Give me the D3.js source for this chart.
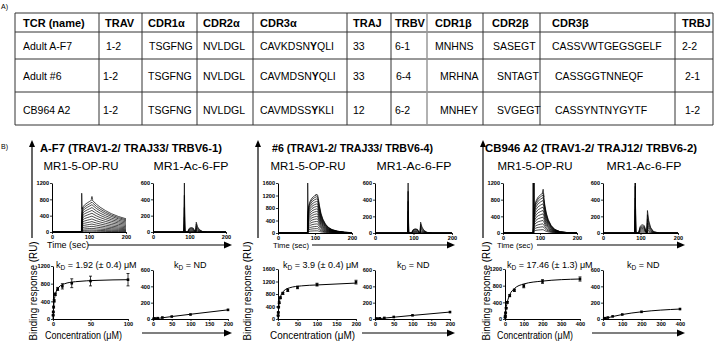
<!DOCTYPE html>
<html>
<head>
<meta charset="utf-8">
<script src="https://cdn.jsdelivr.net/npm/d3@7"></script>
<style>
html, body { margin: 0; padding: 0; background: #fff; }
svg { display: block; }
</style>
</head>
<body>
<div id="fig"></div>
<script>
// TCR table (A) and SPR panels (B): sensorgrams + steady-state binding curves.
var FONT = '"Liberation Sans", Arial, Helvetica, sans-serif';

// ---- A) table ------------------------------------------------------------
var tableHeaders = ['TCR (name)', 'TRAV', 'CDR1\u03b1', 'CDR2\u03b1', 'CDR3\u03b1', 'TRAJ',
                    'TRBV', 'CDR1\u03b2', 'CDR2\u03b2', 'CDR3\u03b2', 'TRBJ'];
var tcrNames  = ['Adult A-F7', 'Adult #6', 'CB964 A2'];
var travGenes = ['1-2', '1-2', '1-2'];
var cdr1a     = ['TSGFNG', 'TSGFNG', 'TSGFNG'];
var cdr2a     = ['NVLDGL', 'NVLDGL', 'NVLDGL'];
var cdr3a     = ['CAVKDSN[Y]QLI', 'CAVMDSN[Y]QLI', 'CAVMDSS[Y]KLI'];   // [..] = bold
var trajGenes = ['33', '33', '12'];
var trbvGenes = ['6-1', '6-4', '6-2'];
var cdr1b     = ['MNHNS', 'MRHNA', 'MNHEY'];
var cdr2b     = ['SASEGT', 'SNTAGT', 'SVGEGT'];
var cdr3b     = ['CASSVWTGEGSGELF', 'CASSGGTNNEQF', 'CASSYNTNYGYTF'];
var trbjGenes = ['2-2', '2-1', '1-2'];

// ---- B) titles -----------------------------------------------------------
var groupTitles = ['A-F7 (TRAV1-2/ TRAJ33/ TRBV6-1)',
                   '#6 (TRAV1-2/ TRAJ33/ TRBV6-4)',
                   'CB946 A2 (TRAV1-2/ TRAJ12/ TRBV6-2)'];
var ligandNames = ['MR1-5-OP-RU', 'MR1-Ac-6-FP'];
var kdLabels = [' = 1.92 (\u00b1 0.4) \u03bcM', ' = ND',
                ' = 3.9 (\u00b1 0.4) \u03bcM',  ' = ND',
                ' = 17.46 (\u00b1 1.3) \u03bcM', ' = ND'];

// ---- sensorgrams, MR1-5-OP-RU: shape [time, fraction of level] x trace levels
var opShapeAF7 = [[0,0],[80,0],[81.5,0.62],[84,0.78],[88,0.84],[95,0.9],[102,0.95],[108,1],
                  [111,0.96],[120,0.86],[130,0.77],[145,0.66],[160,0.57],[180,0.48],[200,0.41]];
var opLevelsAF7 = [790, 730, 670, 600, 530, 460, 390, 320, 255, 195, 140, 90, 50, 20];
var opSpikesAF7 = [[[79.5,0],[80.3,950],[81.5,560],[82,610]], [[106,800],[108,870],[110,790]]];

var opShape6 = [[0,0],[80,0],[81,0.55],[83,0.72],[87,0.84],[92,0.92],[98,0.97],[104,1],[107,1],
                [109,0.9],[112,0.72],[116,0.52],[121,0.37],[128,0.24],[136,0.15],[146,0.09],
                [160,0.05],[180,0.02],[200,0.01]];
var opLevels6 = [1220, 1160, 1090, 1010, 930, 850, 770, 690, 610, 530, 450, 370, 290, 210, 140, 70];
var opSpikes6 = [[[79.5,0],[80.3,1600],[81.5,650]], [[101,1200],[103,1240],[105,1215]]];

var opShapeCB = [[0,0],[82,0],[83,0.45],[85,0.65],[89,0.8],[95,0.9],[102,0.96],[108,1],[110,0.92],
                 [113,0.7],[117,0.5],[122,0.34],[130,0.19],[140,0.09],[155,0.03],[175,0.01],[200,0]];
var opLevelsCB = [960, 910, 850, 780, 700, 620, 540, 460, 380, 300, 220, 150, 80];
var opSpikesCB = [[[80.5,0],[81.3,1200],[82,0]], [[82,0],[82.8,1200],[83.6,0]],
                  [[83.5,0],[84.3,1200],[85,650]], [[106,950],[108.5,1050],[111,860]]];

// ---- sensorgrams, MR1-Ac-6-FP: [time, spike frac, bump frac, peak frac]
var acShape = [[0,0,0,0],[84.5,0,0,0],[86,1,0,0],[87.5,0,0,0],[95,0,0,0],[99,0,0.8,0],[104,0,1,0],
               [110,0,0.9,0],[114,0,0.3,0],[117,0,0,0],[118.5,0,0,1],[122,0,0,0.55],
               [127,0,0,0.25],[135,0,0,0.06],[150,0,0,0],[200,0,0,0]];
var acSpikeAF7 = [600, 450, 300, 180, 90, 40, 15];
var acBumpAF7  = [55, 45, 35, 25, 15, 8, 4];
var acPeakAF7  = [120, 95, 70, 50, 30, 15, 6];
var acSpike6 = [600, 500, 380, 260, 150, 70, 25];
var acBump6  = [50, 45, 38, 28, 18, 10, 4];
var acPeak6  = [130, 105, 80, 55, 35, 18, 8];
var acSpikeCB = [600, 600, 560, 420, 280, 150, 60];
var acBumpCB  = [100, 85, 70, 55, 40, 25, 10];
var acPeakCB  = [270, 220, 170, 120, 80, 45, 18];

// ---- steady-state binding (concentration uM, response RU)
var concAF7 = [0.2, 0.4, 0.8, 1.6, 3.1, 6.25, 12.5, 25, 50, 100];
var respAF7 = [85, 160, 270, 410, 560, 680, 740, 810, 860, 890];
var errAF7  = [10, 15, 20, 25, 30, 35, 60, 100, 110, 140];
var fitAF7  = [[0,0],[0.5,185],[1,310],[2,460],[4,610],[8,725],[15,795],[30,845],[60,875],[100,890]];

var concAF7nd = [1.6, 3.1, 6.25, 12.5, 25, 50, 100, 200];
var respAF7nd = [2, 4, 6, 10, 18, 30, 55, 112];
var fitAF7nd  = [[0,0],[50,30],[100,58],[200,112]];

var conc6 = [0.4, 0.8, 1.6, 3.1, 6.25, 12.5, 25, 50, 100, 200];
var resp6 = [110, 210, 380, 520, 680, 820, 920, 1010, 1100, 1180];
var err6  = [10, 15, 20, 25, 30, 35, 40, 40, 45, 60];
var fit6  = [[0,0],[1,230],[2,390],[4,580],[8,770],[15,900],[30,1000],[60,1060],[100,1090],[200,1150]];

var conc6nd = [3.1, 6.25, 12.5, 25, 50, 100, 200];
var resp6nd = [3, 5, 8, 13, 25, 45, 85];
var fit6nd  = [[0,0],[50,22],[100,44],[200,85]];

var concCB = [0.8, 1.6, 3.1, 6.25, 12.5, 25, 50, 100, 200, 400];
var respCB = [40, 80, 150, 260, 400, 560, 690, 790, 900, 960];
var errCB  = [5, 8, 10, 15, 20, 25, 30, 40, 45, 50];
var fitCB  = [[0,0],[3,150],[6,260],[12,400],[25,580],[50,730],[100,840],[200,910],[400,960]];

var concCBnd = [6.25, 12.5, 25, 50, 100, 200, 400];
var respCBnd = [6, 10, 18, 32, 55, 88, 122];
var fitCBnd  = [[0,0],[50,30],[100,55],[200,88],[400,122]];

// ---- ticks
var timeTicks = [0, 100, 200];
var ru1200Ticks = [0, 400, 800, 1200];
var ru1600Ticks = [0, 400, 800, 1200, 1600];
var ru600Ticks = [0, 200, 400, 600];
var conc100Ticks = [0, 50, 100];
var conc200Ticks = [0, 50, 100, 150, 200];
var conc400Ticks = [0, 100, 200, 300, 400];

// =========================================================================
var svg = d3.select('#fig').append('svg')
    .attr('width', 720).attr('height', 342)
    .attr('font-family', FONT);

function txt(parent, x, y, s, size, opts) {
    opts = opts || {};
    var t = parent.append('text')
        .attr('x', x).attr('y', y)
        .attr('font-size', size)
        .attr('font-weight', opts.bold ? 'bold' : 'normal')
        .attr('text-anchor', opts.anchor || 'start')
        .attr('fill', '#000')
        .text(s);
    if (opts.len) t.attr('textLength', opts.len).attr('lengthAdjust', 'spacingAndGlyphs');
    if (opts.rotate) t.attr('transform', 'rotate(' + opts.rotate + ',' + x + ',' + y + ')');
    return t;
}

// ---------------- A) table ----------------
txt(svg, 1, 9, 'A)', 7);
var colLines = [15, 99, 142, 197, 253, 347, 391, 427, 483, 540, 675, 713];
var rowLines = [13, 32, 59, 92, 125];
var rowMid = [23, 46, 76, 110];
var textX = [
    [23, 105, 148, 203, 260, 353, 395, 435, 492, 552, 682],
    [23, 106, 149, 203, 260, 353, 395, 435, 493, 552, 682],
    [23, 103, 148, 203, 260, 353, 396, 440, 497, 555, 685],
    [23, 103, 148, 203, 260, 353, 395, 440, 497, 555, 685]
];
var tg = svg.append('g');
rowLines.forEach(function (y) {
    tg.append('line').attr('x1', colLines[0]).attr('x2', colLines[colLines.length - 1])
        .attr('y1', y).attr('y2', y).attr('stroke', '#333').attr('stroke-width', 1);
});
colLines.forEach(function (x, i) {
    tg.append('line').attr('x1', x).attr('x2', x)
        .attr('y1', rowLines[0]).attr('y2', rowLines[rowLines.length - 1])
        .attr('stroke', i === 7 ? '#999' : '#333').attr('stroke-width', i === 7 ? 1.5 : 1);
});
tableHeaders.forEach(function (h, i) {
    txt(tg, textX[0][i], rowMid[0] + 4, h, 11, { bold: true });
});
var tableRows = tcrNames.map(function (n, r) {
    return [n, travGenes[r], cdr1a[r], cdr2a[r], cdr3a[r], trajGenes[r],
            trbvGenes[r], cdr1b[r], cdr2b[r], cdr3b[r], trbjGenes[r]];
});
tableRows.forEach(function (row, r) {
    row.forEach(function (cell, c) {
        var t = txt(tg, textX[r + 1][c], rowMid[r + 1] + 4, '', 10.5);
        cell.split(/(\[[^\]]*\])/).forEach(function (part) {
            if (!part) return;
            var bold = part.charAt(0) === '[';
            t.append('tspan').attr('font-weight', bold ? 'bold' : 'normal')
                .text(bold ? part.slice(1, -1) : part);
        });
    });
});

// ---------------- B) panels ----------------
txt(svg, 1, 149, 'B)', 7);

function arrowUp(g, x, yBottom, yTip) {
    g.append('line').attr('x1', x).attr('x2', x).attr('y1', yBottom).attr('y2', yTip + 6)
        .attr('stroke', '#000').attr('stroke-width', 1.2);
    g.append('path').attr('d', 'M' + (x - 3) + ',' + (yTip + 7) + 'L' + x + ',' + yTip + 'L' + (x + 3) + ',' + (yTip + 7) + 'Z')
        .attr('fill', '#000');
}
function arrowRight(g, x0, xTip, y) {
    g.append('line').attr('x1', x0).attr('x2', xTip - 6).attr('y1', y).attr('y2', y)
        .attr('stroke', '#000').attr('stroke-width', 1.2);
    g.append('path').attr('d', 'M' + (xTip - 8) + ',' + (y - 3.5) + 'L' + xTip + ',' + y + 'L' + (xTip - 8) + ',' + (y + 3.5) + 'Z')
        .attr('fill', '#000');
}

function axes(g, x, y, xt, yt) {
    var fmt = d3.format('d');
    var xa = g.append('g').attr('transform', 'translate(0,' + y.range()[0] + ')')
        .call(d3.axisBottom(x).tickValues(xt).tickFormat(fmt).tickSize(2).tickPadding(1).tickSizeOuter(0));
    var ya = g.append('g').attr('transform', 'translate(' + x.range()[0] + ',0)')
        .call(d3.axisLeft(y).tickValues(yt).tickFormat(fmt).tickSize(2).tickPadding(1).tickSizeOuter(0));
    [xa, ya].forEach(function (a) {
        a.attr('font-size', 5.6).attr('font-family', FONT).attr('font-weight', 'bold');
        a.select('.domain').attr('stroke', '#000').attr('stroke-width', 1);
        a.selectAll('.tick line').attr('stroke', '#000').attr('stroke-width', 0.8);
        a.selectAll('.tick text').attr('fill', '#000');
    });
}

var groups = [
    { vx: 32, labelX: 33, titleX: 40, titleLen: 182, timeX: 47, timeSize: 9, timeLen: 42, timeArrow: [88, 232],
      concX: 45, concSize: 10, concLen: 77, concArrow: [142, 232] },
    { vx: 258, labelX: 247, titleX: 272, titleLen: 161, timeX: 273, timeSize: 8, timeLen: 36, timeArrow: [312, 455],
      concX: 270, concSize: 10, concLen: 85, concArrow: [362, 455] },
    { vx: 483, labelX: 486, titleX: 485, titleLen: 212, timeX: 497, timeSize: 8, timeLen: 36, timeArrow: [537, 685],
      concX: 497, concSize: 10, concLen: 76, concArrow: [592, 685] }
];
groups.forEach(function (gr, i) {
    var g = svg.append('g');
    arrowUp(g, gr.vx, 238, 140);
    txt(g, gr.titleX, 152, groupTitles[i], 11.5, { bold: true, len: gr.titleLen });
    txt(g, gr.timeX, 248, 'Time (sec)', gr.timeSize, { len: gr.timeLen });
    arrowRight(g, gr.timeArrow[0], gr.timeArrow[1], 245);
    txt(g, gr.concX, 338.5, 'Concentration (\u03bcM)', gr.concSize, { len: gr.concLen });
    arrowRight(g, gr.concArrow[0], gr.concArrow[1], 333);
    txt(g, gr.labelX + 3.5, 291, 'Binding response (RU)', 10.5, { anchor: 'middle', rotate: -90, len: 99 });
});

function opTraces(shape, levels, spikes) {
    var out = levels.map(function (L) {
        return shape.map(function (p) { return [p[0], p[1] * L]; });
    });
    return out.concat(spikes);
}
function acTraces(spike, bump, peak) {
    return spike.map(function (s, k) {
        return acShape.map(function (p) { return [p[0], s * p[1] + bump[k] * p[2] + peak[k] * p[3]]; });
    });
}

var sensorPanels = [
    { x0: 52,  x1: 126, y0: 232, y1: 183, ymax: 1200, yt: ru1200Ticks, lab: 0, labX: 81,
      traces: opTraces(opShapeAF7, opLevelsAF7, opSpikesAF7) },
    { x0: 153, x1: 226, y0: 232, y1: 183, ymax: 600, yt: ru600Ticks, lab: 1, labX: 191,
      traces: acTraces(acSpikeAF7, acBumpAF7, acPeakAF7) },
    { x0: 278, x1: 352, y0: 233, y1: 183, ymax: 1600, yt: ru1600Ticks, lab: 0, labX: 308,
      traces: opTraces(opShape6, opLevels6, opSpikes6) },
    { x0: 375, x1: 452, y0: 233, y1: 183, ymax: 600, yt: ru600Ticks, lab: 1, labX: 414,
      traces: acTraces(acSpike6, acBump6, acPeak6) },
    { x0: 503, x1: 577, y0: 233, y1: 183, ymax: 1200, yt: ru1200Ticks, lab: 0, labX: 535,
      traces: opTraces(opShapeCB, opLevelsCB, opSpikesCB) },
    { x0: 603, x1: 678, y0: 233, y1: 183, ymax: 600, yt: ru600Ticks, lab: 1, labX: 644,
      traces: acTraces(acSpikeCB, acBumpCB, acPeakCB) }
];
sensorPanels.forEach(function (p) {
    var g = svg.append('g');
    var x = d3.scaleLinear().domain([0, 200]).range([p.x0, p.x1]);
    var y = d3.scaleLinear().domain([0, p.ymax]).range([p.y0, p.y1]);
    var line = d3.line().x(function (d) { return x(d[0]); }).y(function (d) { return y(d[1]); });
    g.selectAll('path.trace').data(p.traces).enter().append('path')
        .attr('class', 'trace').attr('d', line)
        .attr('fill', 'none').attr('stroke', '#000').attr('stroke-width', 0.7);
    axes(g, x, y, timeTicks, p.yt);
    txt(g, p.labX, 170, ligandNames[p.lab], 11.3, { anchor: 'middle', len: 75 });
});

var bindPanels = [
    { x0: 53,  x1: 128, y0: 319, y1: 266, xmax: 100, ymax: 1200, xt: conc100Ticks, yt: ru1200Ticks,
      conc: concAF7, resp: respAF7, err: errAF7, fit: fitAF7, kdX: 56 },
    { x0: 153, x1: 228, y0: 319, y1: 270, xmax: 200, ymax: 600, xt: conc200Ticks, yt: ru600Ticks,
      conc: concAF7nd, resp: respAF7nd, err: null, fit: fitAF7nd, kdX: 174 },
    { x0: 278, x1: 356, y0: 319, y1: 269, xmax: 200, ymax: 1600, xt: conc200Ticks, yt: ru1600Ticks,
      conc: conc6, resp: resp6, err: err6, fit: fit6, kdX: 283 },
    { x0: 375, x1: 450, y0: 319, y1: 270, xmax: 200, ymax: 600, xt: conc200Ticks, yt: ru600Ticks,
      conc: conc6nd, resp: resp6nd, err: null, fit: fit6nd, kdX: 397 },
    { x0: 505, x1: 580, y0: 319, y1: 269, xmax: 400, ymax: 1200, xt: conc400Ticks, yt: ru1200Ticks,
      conc: concCB, resp: respCB, err: errCB, fit: fitCB, kdX: 507 },
    { x0: 603, x1: 680, y0: 319, y1: 270, xmax: 400, ymax: 600, xt: conc400Ticks, yt: ru600Ticks,
      conc: concCBnd, resp: respCBnd, err: null, fit: fitCBnd, kdX: 627 }
];
bindPanels.forEach(function (p, i) {
    var g = svg.append('g');
    var x = d3.scaleLinear().domain([0, p.xmax]).range([p.x0, p.x1]);
    var y = d3.scaleLinear().domain([0, p.ymax]).range([p.y0, p.y1]);
    var line = d3.line().curve(d3.curveMonotoneX)
        .x(function (d) { return x(d[0]); }).y(function (d) { return y(d[1]); });
    g.append('path').attr('d', line(p.fit)).attr('fill', 'none')
        .attr('stroke', '#000').attr('stroke-width', 1);
    if (p.err) {
        p.conc.forEach(function (c, k) {
            var cx = x(c), lo = y(p.resp[k] - p.err[k]), hi = y(p.resp[k] + p.err[k]);
            g.append('line').attr('x1', cx).attr('x2', cx).attr('y1', lo).attr('y2', hi)
                .attr('stroke', '#000').attr('stroke-width', 0.8);
            [lo, hi].forEach(function (yy) {
                g.append('line').attr('x1', cx - 1.5).attr('x2', cx + 1.5).attr('y1', yy).attr('y2', yy)
                    .attr('stroke', '#000').attr('stroke-width', 0.8);
            });
        });
    }
    g.selectAll('rect.pt').data(p.conc).enter().append('rect').attr('class', 'pt')
        .attr('x', function (c) { return x(c) - 1.3; })
        .attr('y', function (c, k) { return y(p.resp[k]) - 1.3; })
        .attr('width', 2.6).attr('height', 2.6).attr('fill', '#000');
    axes(g, x, y, p.xt, p.yt);
    var t = txt(g, p.kdX, 268, 'k', 9);
    t.append('tspan').attr('font-size', 6.5).attr('dy', 2).text('D');
    t.append('tspan').attr('dy', -2).text(kdLabels[i]);
});
</script>
</body>
</html>
